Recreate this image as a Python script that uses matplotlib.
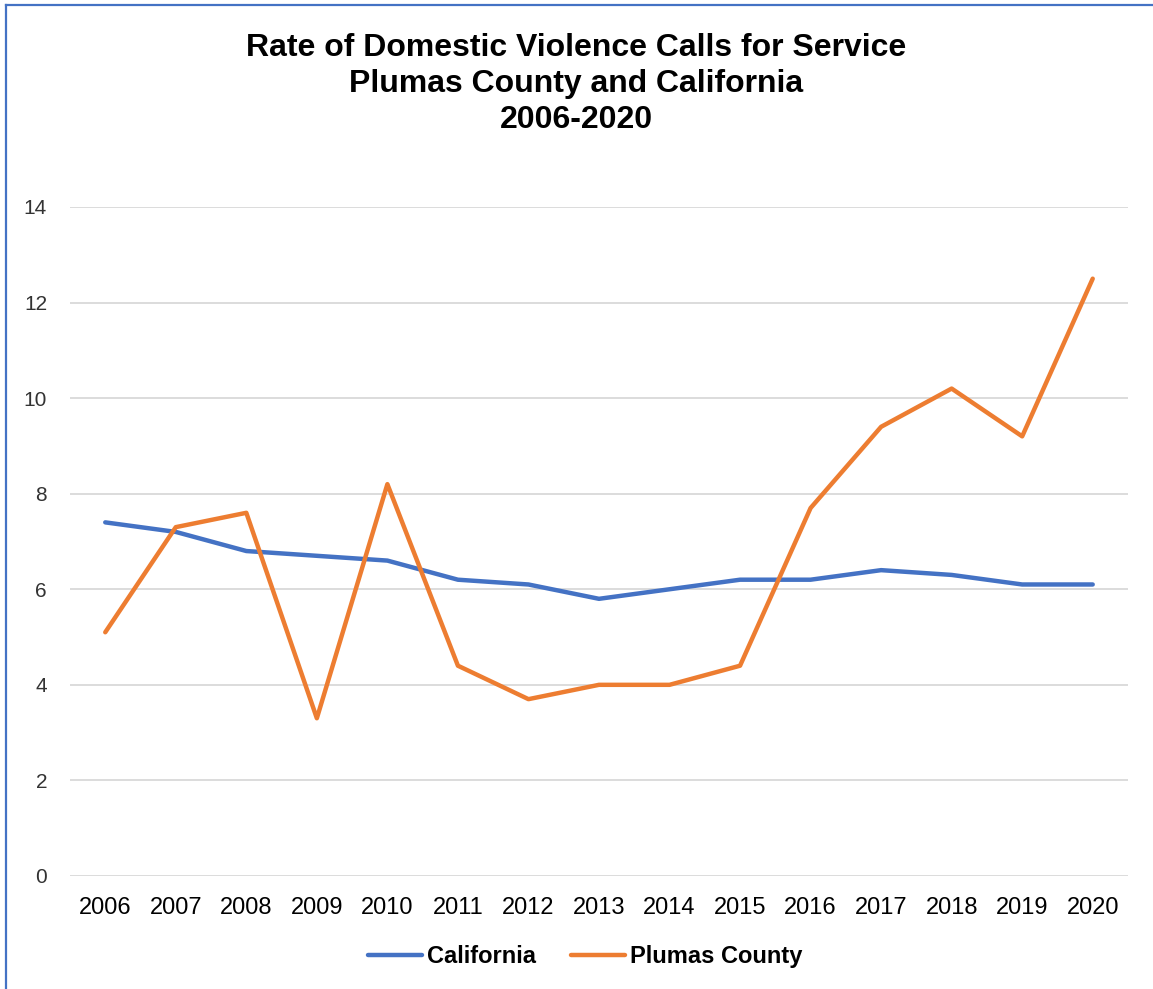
import matplotlib
matplotlib.use("Agg")
import matplotlib.pyplot as plt
from matplotlib.lines import Line2D

years = ["2006", "2007", "2008", "2009", "2010", "2011", "2012", "2013",
         "2014", "2015", "2016", "2017", "2018", "2019", "2020"]
california = [7.4, 7.2, 6.8, 6.7, 6.6, 6.2, 6.1, 5.8, 6.0, 6.2, 6.2, 6.4, 6.3, 6.1, 6.1]
plumas = [5.1, 7.3, 7.6, 3.3, 8.2, 4.4, 3.7, 4.0, 4.0, 4.4, 7.7, 9.4, 10.2, 9.2, 12.5]
yticks = [0, 2, 4, 6, 8, 10, 12, 14]

plt.rcParams['font.family'] = ['Liberation Sans', 'DejaVu Sans']

fig = plt.figure(figsize=(11.53, 9.89), dpi=100)
ax = fig.add_axes([0.0607, 0.1143, 0.9176, 0.6764])

x = list(range(len(years)))
ax.plot(x, california, color="#4472C4", lw=3.2, label="California",
        solid_capstyle="round", solid_joinstyle="round", zorder=3)
ax.plot(x, plumas, color="#ED7D31", lw=3.2, label="Plumas County",
        solid_capstyle="round", solid_joinstyle="round", zorder=3)

ax.set_xlim(-0.5, len(years) - 0.5)
ax.set_ylim(0, 14)
ax.set_yticks(yticks)
ax.set_yticklabels([str(v) for v in yticks])
ax.set_xticks(x)
ax.set_xticklabels(years)
ax.tick_params(axis='both', length=0)
ax.tick_params(axis='y', pad=16.5, labelsize=15, labelcolor="#333333")
ax.tick_params(axis='x', pad=15, labelsize=17, labelcolor="#000000")
ax.grid(axis='y', color="#D9D9D9", lw=1.3)
ax.set_axisbelow(True)
for s in ax.spines.values():
    s.set_visible(False)

fig.text(0.5, 0.967, "Rate of Domestic Violence Calls for Service\nPlumas County and California\n2006-2020",
         ha='center', va='top', fontsize=23, fontweight='bold', linespacing=1.26)

leg = fig.legend(loc='center', bbox_to_anchor=(0.5074, 0.033), ncol=2, frameon=False,
                 prop={'weight': 'bold', 'size': 17}, handlelength=2.3,
                 handletextpad=0.2, columnspacing=1.48)

# chart border (top and left visible)
fig.add_artist(Line2D([0.0052, 0.0052], [0, 0.995], transform=fig.transFigure,
                      color="#4472C4", lw=1.6))
fig.add_artist(Line2D([0.0052, 1.0], [0.995, 0.995], transform=fig.transFigure,
                      color="#4472C4", lw=1.6))

fig.savefig("out.png", dpi=100)
